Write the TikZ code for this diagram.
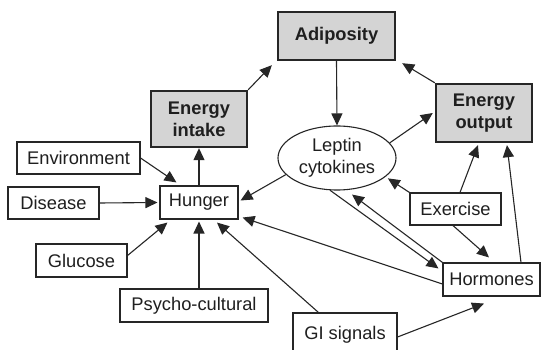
\documentclass[tikz,border=0pt]{standalone}
\usepackage{fontspec}
\setmainfont{Liberation Sans}
\usetikzlibrary{arrows.meta,calc,shapes.geometric}
\begin{document}
\begin{tikzpicture}[x=1pt,y=-1pt,
  box/.style={draw=black!85,line width=1.1pt,fill=white,inner sep=0pt,align=center,text=black!88,font=\fontsize{18.3}{22}\selectfont},
  gbox/.style={box,fill=black!17,line width=2.4pt,font=\fontsize{18.3}{22}\selectfont\bfseries},
  arr/.style={line width=1.1pt,draw=black!85,-{Triangle[length=12pt,width=11pt]}}]
\useasboundingbox (0,0) rectangle (542,350);
\clip (0,0) rectangle (542,350);
\fill[white] (0,0) rectangle (542,350);

\node[gbox,minimum width=117pt,minimum height=48pt] (adip) at (336.5,36) {Adiposity};
\node[gbox,minimum width=96pt,minimum height=56pt] (intake) at (199,119) {Energy\\intake};
\node[gbox,minimum width=96pt,minimum height=58pt] (output) at (484,113) {Energy\\output};
\node[box,ellipse,minimum width=118pt,minimum height=64pt] (lep) at (337,158) {Leptin\\cytokines};
\node[box,minimum width=123pt,minimum height=32pt] (env) at (78.5,158) {Environment};
\node[box,minimum width=91pt,minimum height=32pt] (dis) at (53.5,203) {Disease};
\node[box,minimum width=78pt,minimum height=33pt] (hunger) at (199,202.5) {Hunger};
\node[box,minimum width=91pt,minimum height=33pt] (glu) at (81.5,260.5) {Glucose};
\node[box,minimum width=148pt,minimum height=33pt] (psy) at (194,305.5) {Psycho-cultural};
\node[box,minimum width=91pt,minimum height=32pt] (ex) at (455.5,209) {Exercise};
\node[box,minimum width=97pt,minimum height=33pt] (horm) at (491.5,279.5) {Hormones};
\node[box,minimum width=104pt,minimum height=39pt,text depth=0pt] (gi) at (345,332.5) {GI signals};

\draw[arr] (intake.north east) -- ($(adip.south west)+(-5,4)$);
\draw[arr] (output.north west) -- ($(adip.south east)+(6,2)$);
\draw[arr] (adip.south) -- (lep.north);
\draw[arr] (lep.16) -- ($(output.west)+(-2,0)$);
\draw[arr] (lep.198) -- ($(hunger.east)+(2,-2)$);
\draw[arr] (hunger.north) -- (intake.south);
\draw[arr] (env.east) -- ($(hunger.north west)+(17,-3)$);
\draw[arr] (dis.east) -- ($(hunger.west)+(-2,0)$);
\draw[arr] ($(glu.east)+(0,-5)$) -- ($(hunger.south west)+(8,3)$);
\draw[arr] (hunger.south |- psy.north) -- ($(hunger.south)+(0,2)$);
\draw[arr] ($(gi.north west)+(26,0)$) -- ($(hunger.south)+(18,3)$);
\draw[arr] ($(horm.west)+(0,4.5)$) -- ($(hunger.south east)+(4,-2)$);
\draw[arr] (lep.258) -- ($(horm.north west)+(-4,6)$);
\draw[arr] (horm.north west) -- ($(lep.south)+(15,4)$);
\draw[arr] (ex.north west) -- ($(lep.-22)+(3,1)$);
\draw[arr] ($(ex.north)+(4.5,0)$) -- ($(output.south)+(-6,2)$);
\draw[arr] ($(ex.south)+(-2.5,0)$) -- ($(horm.north)+(-2.5,-5)$);
\draw[arr] ($(horm.north)+(29.5,0)$) -- ($(output.south)+(23,2)$);
\draw[arr] ($(gi.east)+(0,4.5)$) -- ($(horm.south)+(-7.5,7)$);
\end{tikzpicture}
\end{document}
